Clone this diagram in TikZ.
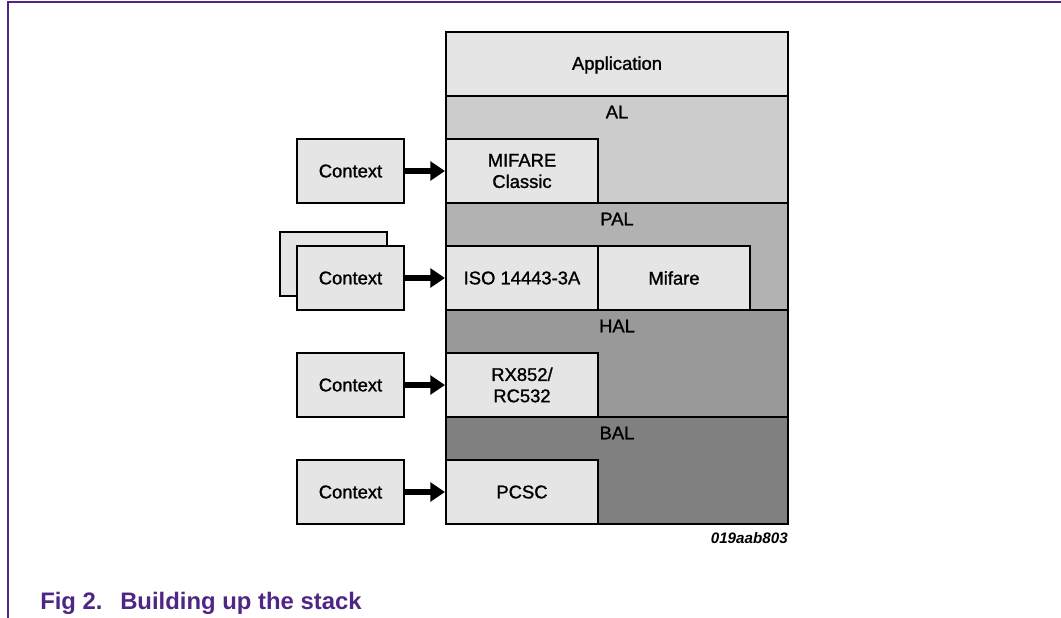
\documentclass[tikz,border=0pt]{standalone}
\usepackage{fontspec}
\setmainfont{Liberation Sans}
\newfontfamily\dfont{Liberation Sans}[FakeBold=1.2]
\usetikzlibrary{arrows.meta}
\definecolor{boxfill}{gray}{0.90}
\definecolor{alfill}{gray}{0.80}
\definecolor{palfill}{gray}{0.70}
\definecolor{halfill}{gray}{0.60}
\definecolor{balfill}{gray}{0.50}
\definecolor{nxppurple}{RGB}{79,38,131}
\tikzset{
  lw/.style={line width=1.5pt},
  box/.style={draw, lw, fill=boxfill, rectangle, inner sep=0pt,
    minimum width=152*0.75pt, minimum height=64*0.75pt, align=center,
    font=\dfont\fontsize{13.8}{16}\selectfont},
  ctx/.style={box, minimum width=107*0.75pt},
  layerlabel/.style={font=\dfont\fontsize{13.8}{16}\selectfont, inner sep=0pt},
  feed/.style={line width=3.8pt, -{Triangle[length=11pt,width=14pt]}}
}
\begin{document}
\begin{tikzpicture}[x=0.75pt,y=-0.75pt]
\useasboundingbox (0,0) rectangle (1061,618);
% frame
\draw[nxppurple, line width=1.2pt] (8,618) -- (8,2) -- (1061,2);
% layers
\fill[boxfill] (446,32) rectangle (788,96);
\fill[alfill] (446,96) rectangle (788,203);
\fill[palfill] (446,203) rectangle (788,310);
\fill[halfill] (446,310) rectangle (788,417);
\fill[balfill] (446,417) rectangle (788,524);
\draw[lw] (446,96) -- (788,96);
\draw[lw] (446,203) -- (788,203);
\draw[lw] (446,310) -- (788,310);
\draw[lw] (446,417) -- (788,417);
\draw[lw] (446,32) rectangle (788,524);
\node[layerlabel] (app) at (617,65) {Application};
\node[layerlabel] (al) at (617,112) {AL};
\node[layerlabel] (pal) at (617,219) {PAL};
\node[layerlabel] (hal) at (617,326) {HAL};
\node[layerlabel] (bal) at (617,433) {BAL};
% sub boxes
\node[box] (mfc) at (522,171) {MIFARE\\Classic};
\node[box] (iso) at (522,278) {ISO 14443-3A};
\node[box] (mif) at (674,278) {Mifare};
\node[box] (rx) at (522,385) {RX852/\\RC532};
\node[box] (pcsc) at (522,492) {PCSC};
% context boxes
\node[ctx] (c1) at (350.5,171) {Context};
\node[ctx] (c2s) at (333.5,263.5) {};
\node[ctx] (c2) at (350.5,278) {Context};
\node[ctx] (c3) at (350.5,385) {Context};
\node[ctx] (c4) at (350.5,492) {Context};
% arrows
\draw[feed] (c1.east) -- (mfc.west);
\draw[feed] (c2.east) -- (iso.west);
\draw[feed] (c3.east) -- (rx.west);
\draw[feed] (c4.east) -- (pcsc.west);
% id
\node[anchor=base east, inner sep=0pt, font=\fontsize{11.4}{13}\selectfont\bfseries\itshape] (id) at (788,543) {019aab803};
% caption
\node[anchor=base west, inner sep=0pt, text=nxppurple, font=\fontsize{17.9}{20}\selectfont\bfseries] (fig) at (40,609) {Fig 2.};
\node[anchor=base west, inner sep=0pt, text=nxppurple, font=\fontsize{17.9}{20}\selectfont\bfseries] (cap) at (120,609) {Building up the stack};
\end{tikzpicture}
\end{document}
